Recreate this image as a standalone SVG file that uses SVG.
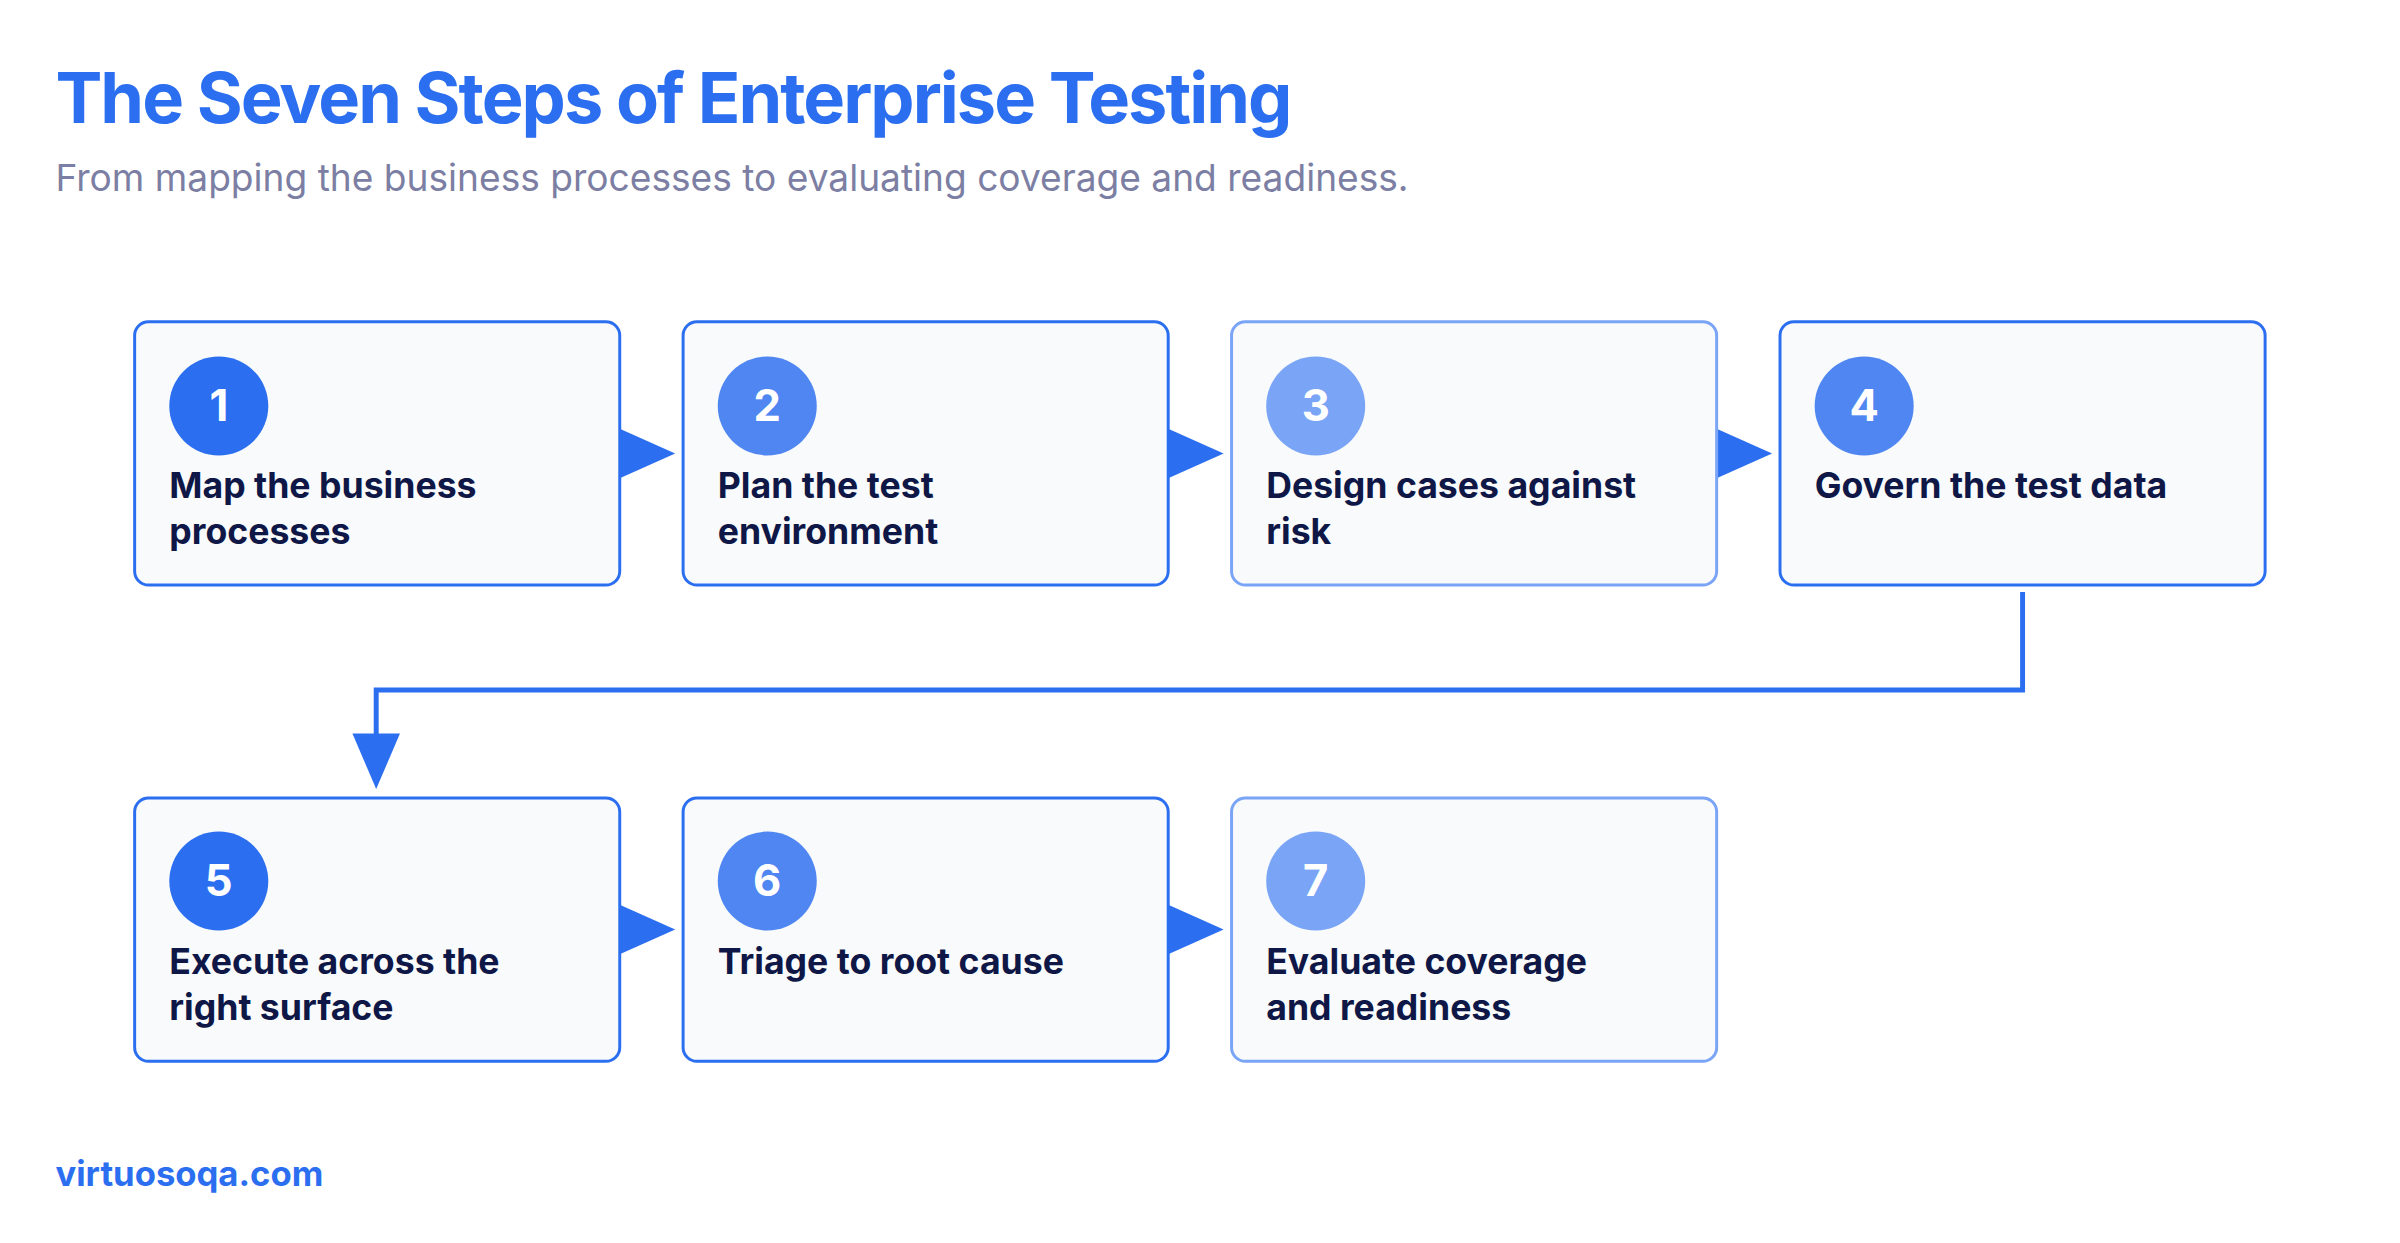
<svg xmlns="http://www.w3.org/2000/svg" width="2400" height="1243" viewBox="0 0 2400 1243">
<style>
.box{fill:#f8fafc;stroke-width:3}
.num{font-family:Inter,"Liberation Sans",sans-serif;font-weight:700;font-size:44px;fill:#fff;text-anchor:middle}
.lbl{font-family:Inter,"Liberation Sans",sans-serif;font-weight:700;font-size:36px;fill:#0f1747}
.c1{fill:#2b6ff0}.s1{stroke:#2b6ff0}
.c2{fill:#4f86f2}.s2{stroke:#4f86f2}
.c3{fill:#7aa4f6}.s3{stroke:#7aa4f6}
.ah{fill:#2b6ff0}
</style>
<rect width="2400" height="1243" fill="#fff"/>
<g transform="scale(0.99)">
<text x="56" y="124" font-family="Inter,'Liberation Sans',sans-serif" font-weight="700" font-size="71" fill="#2b6ff0" letter-spacing="-2">The Seven Steps of Enterprise Testing</text>
<text x="56" y="193" font-family="Inter,'Liberation Sans',sans-serif" font-size="37.5" fill="#7c7fa3">From mapping the business processes to evaluating coverage and readiness.</text>
<g id="connectors">
<polygon class="ah" points="626,433 682,458 626,483"/>
<polygon class="ah" points="1180,433 1236,458 1180,483"/>
<polygon class="ah" points="1734,433 1790,458 1734,483"/>
<polygon class="ah" points="626,914 682,939 626,964"/>
<polygon class="ah" points="1180,914 1236,939 1180,964"/>
<polyline points="2043,598 2043,697 380,697 380,745" fill="none" stroke="#2b6ff0" stroke-width="5"/>
<polygon class="ah" points="356,741 404,741 380,797"/>
</g>
<g id="n1"><rect class="box s1" x="136" y="325" width="490" height="266" rx="14"/><circle class="c1" cx="221" cy="410" r="50"/><text class="num" x="221" y="425">1</text><text class="lbl" x="171" y="503">Map the business</text><text class="lbl" x="171" y="550">processes</text></g>
<g id="n2"><rect class="box s1" x="690" y="325" width="490" height="266" rx="14"/><circle class="c2" cx="775" cy="410" r="50"/><text class="num" x="775" y="425">2</text><text class="lbl" x="725" y="503">Plan the test</text><text class="lbl" x="725" y="550">environment</text></g>
<g id="n3"><rect class="box s3" x="1244" y="325" width="490" height="266" rx="14"/><circle class="c3" cx="1329" cy="410" r="50"/><text class="num" x="1329" y="425">3</text><text class="lbl" x="1279" y="503">Design cases against</text><text class="lbl" x="1279" y="550">risk</text></g>
<g id="n4"><rect class="box s1" x="1798" y="325" width="490" height="266" rx="14"/><circle class="c2" cx="1883" cy="410" r="50"/><text class="num" x="1883" y="425">4</text><text class="lbl" x="1833" y="503">Govern the test data</text></g>
<g id="n5"><rect class="box s1" x="136" y="806" width="490" height="266" rx="14"/><circle class="c1" cx="221" cy="890" r="50"/><text class="num" x="221" y="905">5</text><text class="lbl" x="171" y="984">Execute across the</text><text class="lbl" x="171" y="1030">right surface</text></g>
<g id="n6"><rect class="box s1" x="690" y="806" width="490" height="266" rx="14"/><circle class="c2" cx="775" cy="890" r="50"/><text class="num" x="775" y="905">6</text><text class="lbl" x="725" y="984">Triage to root cause</text></g>
<g id="n7"><rect class="box s3" x="1244" y="806" width="490" height="266" rx="14"/><circle class="c3" cx="1329" cy="890" r="50"/><text class="num" x="1329" y="905">7</text><text class="lbl" x="1279" y="984">Evaluate coverage</text><text class="lbl" x="1279" y="1030">and readiness</text></g>
<text x="56" y="1198" font-family="Inter,'Liberation Sans',sans-serif" font-weight="700" font-size="35" fill="#2b6ff0">virtuosoqa.com</text>
</g>
</svg>
